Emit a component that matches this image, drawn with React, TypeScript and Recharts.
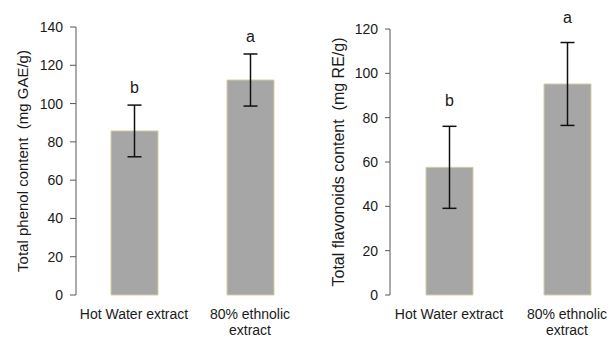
import React from 'react';
import { BarChart, Bar, XAxis, YAxis, ErrorBar, LabelList } from 'recharts';

// categories and tick label lines
const categories = ['Hot Water extract', '80% ethnolic extract'];
const categoryLines = [['Hot Water extract'], ['80% ethnolic', 'extract']];

// left panel: total phenol
const phenolValues = [85.7, 112.3];
const phenolErrors = [13.5, 13.6];
const phenolLetters = ['b', 'a'];
const phenolTicks = [0, 20, 40, 60, 80, 100, 120, 140];

// right panel: total flavonoids
const flavonoidValues = [57.6, 95.2];
const flavonoidErrors = [18.5, 18.7];
const flavonoidLetters = ['b', 'a'];
const flavonoidTicks = [0, 20, 40, 60, 80, 100, 120];

const edgeTicks = [0, 1, 2];

const FONT = '"Liberation Sans", Arial, sans-serif';
const AXIS = '#595959';

const CatTick = (props: any) => {
  const { x, y, index } = props;
  const lines = categoryLines[index] || [];
  return (
    <text x={x} y={y} textAnchor="middle" fontFamily={FONT} fontSize={14} fill="#1a1a1a">
      {lines.map((l, i) => (
        <tspan key={i} x={x} dy={i === 0 ? 11 : 16}>{l}</tspan>
      ))}
    </text>
  );
};

interface PanelProps {
  values: number[];
  errors: number[];
  letters: string[];
  ticks: number[];
  yLabel: string;
  width: number;
  axisWidth: number;
  top: number;
  labelX: number;
  labelSize: number;
  letterGap: number;
  tickSize: number;
}

const Panel: React.FC<PanelProps> = ({ values, errors, letters, ticks, yLabel, width, axisWidth, top, labelX, labelSize, letterGap, tickSize }) => {
  const data = categories.map((name, i) => ({ name, value: values[i], err: errors[i], letter: letters[i] }));

  const renderLetter = (p: any) => {
    const vb = p.viewBox || p;
    const x = vb.x ?? p.x;
    const y = vb.y ?? p.y;
    const w = vb.width ?? p.width;
    const h = vb.height ?? p.height;
    const i = p.index;
    const perUnit = h / values[i];
    const capY = y - errors[i] * perUnit;
    return (
      <text x={x + w / 2} y={capY - letterGap} textAnchor="middle" fontFamily={FONT} fontSize={16} fill="#1a1a1a">
        {p.value}
      </text>
    );
  };

  const renderTitle = (p: any) => {
    const vb = p.viewBox || {};
    const cx = labelX;
    const cy = vb.y + vb.height / 2;
    return (
      <text x={cx} y={cy} transform={`rotate(-90, ${cx}, ${cy})`} textAnchor="middle" dominantBaseline="central"
        fontFamily={FONT} fontSize={labelSize} fill="#1a1a1a" style={{ whiteSpace: 'pre' }}>
        {yLabel}
      </text>
    );
  };

  return (
    <BarChart width={width} height={338} data={data} margin={{ top, right: 0, bottom: 0, left: 0 }}>
      <XAxis xAxisId="edge" type="number" domain={[0, 2]} ticks={edgeTicks} tickFormatter={() => ''}
        tickSize={5} height={0} axisLine={{ stroke: AXIS }} tickLine={{ stroke: AXIS }} allowDataOverflow />
      <XAxis xAxisId="cat" dataKey="name" axisLine={false} tickLine={false} tickSize={0} tickMargin={13}
        height={43} interval={0} tick={<CatTick />} />
      <YAxis type="number" domain={[0, ticks[ticks.length - 1]]} ticks={ticks} interval={0} width={axisWidth}
        tickSize={tickSize} tickMargin={7} axisLine={{ stroke: AXIS }} tickLine={{ stroke: AXIS }}
        tick={{ fontFamily: FONT, fontSize: 14, fill: '#1a1a1a' }} label={renderTitle} />
      <Bar xAxisId="cat" dataKey="value" fill="#a6a6a6" stroke="#d5cda4" strokeWidth={1} barSize={47} isAnimationActive={false}>
        <ErrorBar dataKey="err" direction="y" width={7} stroke="#111" strokeWidth={1.5} isAnimationActive={false} />
        <LabelList dataKey="letter" content={renderLetter} />
      </Bar>
    </BarChart>
  );
};

export default function App() {
  return (
    <div style={{ position: 'absolute', left: 0, top: 0, width: 615, height: 338, overflow: 'hidden', background: '#fff' }}>
      <div style={{ position: 'absolute', left: 0, top: 0 }}>
        <Panel values={phenolValues} errors={phenolErrors} letters={phenolLetters} ticks={phenolTicks}
          yLabel="Total phenol content  (mg GAE/g)" width={308} axisWidth={76} top={27}
          labelX={22} labelSize={15} letterGap={12} tickSize={6} />
      </div>
      <div style={{ position: 'absolute', left: 310, top: 0 }}>
        <Panel values={flavonoidValues} errors={flavonoidErrors} letters={flavonoidLetters} ticks={flavonoidTicks}
          yLabel="Total flavonoids content  (mg RE/g)" width={316} axisWidth={80} top={29}
          labelX={28} labelSize={16} letterGap={20} tickSize={5} />
      </div>
    </div>
  );
}
